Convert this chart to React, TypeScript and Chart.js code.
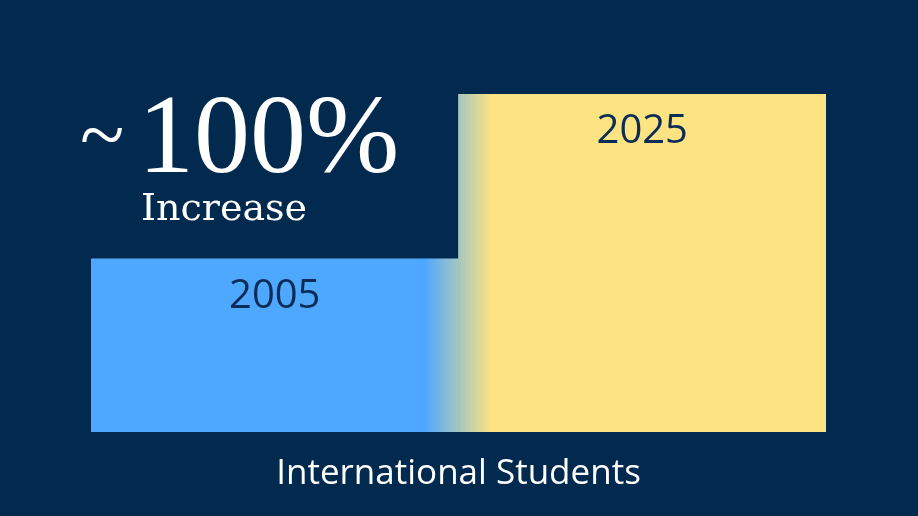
import React, { useEffect, useRef } from "react";
import { Chart, registerables } from "chart.js";

Chart.register(...registerables);

const categories = ["2005", "2025"];
const values = [51.2, 100];
const axisTitle = "International Students";
const headline = "100%";
const headlinePrefix = "~";
const subline = "Increase";

const NAVY = "#022a4f";
const BLUE = "#4fa8ff";
const YELLOW = "#fde382";
const LABEL = "#0b2c54";

export default function App() {
  const ref = useRef<HTMLCanvasElement | null>(null);

  useEffect(() => {
    const canvas = ref.current;
    if (!canvas) return;

    const gradientFill = (c: any) => {
      const chart = c.chart;
      const area = chart.chartArea;
      if (!area) return BLUE;
      const g = chart.ctx.createLinearGradient(area.left, 0, area.right, 0);
      const w = area.right - area.left;
      g.addColorStop(0, BLUE);
      g.addColorStop((425 - area.left) / w, BLUE);
      g.addColorStop((492 - area.left) / w, YELLOW);
      g.addColorStop(1, YELLOW);
      return g;
    };

    const textPlugin = {
      id: "texts",
      beforeDraw(chart: any) {
        const ctx = chart.ctx;
        ctx.save();
        ctx.fillStyle = NAVY;
        ctx.fillRect(0, 0, chart.width, chart.height);
        ctx.restore();
      },
      afterDraw(chart: any) {
        const ctx = chart.ctx;
        const meta = chart.getDatasetMeta(0);
        ctx.save();
        // bar labels
        ctx.fillStyle = LABEL;
        ctx.font = "40px 'Open Sans'";
        ctx.textAlign = "center";
        ctx.textBaseline = "middle";
        meta.data.forEach((bar: any, i: number) => {
          ctx.fillText(categories[i], bar.x, bar.y + 38);
        });
        // axis title
        const area = chart.chartArea;
        ctx.fillStyle = "#ffffff";
        ctx.font = "35px 'Open Sans'";
        ctx.fillText(axisTitle, (area.left + area.right) / 2, area.bottom + 42);
        // headline
        ctx.textAlign = "left";
        ctx.textBaseline = "alphabetic";
        ctx.font = "112px 'Liberation Serif'";
        ctx.fillText(headline, 138, 172);
        ctx.font = "82px 'Liberation Serif'";
        ctx.fillText(headlinePrefix, 80, 162);
        ctx.font = "38px 'DejaVu Serif'";
        ctx.fillText(subline, 141, 220);
        ctx.restore();
      },
    };

    const chart = new Chart(canvas, {
      type: "bar",
      data: {
        labels: categories,
        datasets: [
          {
            data: values,
            backgroundColor: gradientFill,
            borderWidth: 0,
            barPercentage: 1,
            categoryPercentage: 1,
          },
        ],
      },
      options: {
        responsive: false,
        animation: false,
        layout: { padding: { left: 91, right: 92, top: 94, bottom: 84 } },
        plugins: { legend: { display: false }, tooltip: { enabled: false } },
        scales: {
          x: { display: false },
          y: { display: false, min: 0, max: 100 },
        },
      },
      plugins: [textPlugin],
    });
    return () => chart.destroy();
  }, []);

  return (
    <div style={{ position: "fixed", left: 0, top: 0, width: 918, height: 516, background: NAVY }}>
      <canvas ref={ref} width={918} height={516} style={{ display: "block" }} />
    </div>
  );
}
